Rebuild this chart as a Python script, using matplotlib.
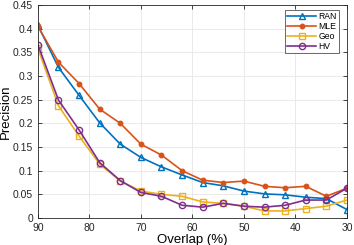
import matplotlib.pyplot as plt

plt.rcParams["font.family"] = ["Liberation Sans", "DejaVu Sans"]

# overlap values (%)
overlap = [90, 86, 82, 78, 74, 70, 66, 62, 58, 54, 50, 46, 42, 38, 34, 30]

ran = [0.407, 0.318, 0.259, 0.201, 0.156, 0.128, 0.108, 0.091, 0.075, 0.068,
       0.057, 0.051, 0.049, 0.044, 0.041, 0.018]
mle = [0.405, 0.329, 0.284, 0.230, 0.200, 0.156, 0.133, 0.100, 0.080, 0.075,
       0.078, 0.067, 0.064, 0.067, 0.046, 0.063]
geo = [0.358, 0.237, 0.173, 0.114, 0.078, 0.057, 0.050, 0.046, 0.034, 0.031,
       0.025, 0.015, 0.015, 0.020, 0.025, 0.038]
hv = [0.366, 0.249, 0.186, 0.117, 0.079, 0.054, 0.046, 0.027, 0.023, 0.031,
      0.025, 0.023, 0.027, 0.038, 0.038, 0.063]

fig = plt.figure(figsize=(3.54, 2.45), dpi=100)
ax = fig.add_axes([0.107, 0.11, 0.873, 0.87])

ax.plot(overlap, ran, color="#0072BD", marker="^", mfc="none", ms=4.5, lw=1.2, mew=1, label="RAN")
ax.plot(overlap, mle, color="#D95319", marker="o", ms=3.2, lw=1.2, label="MLE")
ax.plot(overlap, geo, color="#EDB120", marker="s", mfc="none", ms=3.8, lw=1.2, mew=1, label="Geo")
ax.plot(overlap, hv, color="#7E2F8E", marker="o", mfc="none", ms=4.5, lw=1.2, mew=1, label="HV")

ax.set_xlim(90, 30)
ax.set_ylim(0, 0.45)
ax.set_xticks([90, 80, 70, 60, 50, 40, 30])
ax.set_yticks([0, 0.05, 0.1, 0.15, 0.2, 0.25, 0.3, 0.35, 0.4, 0.45])
ax.set_yticklabels(["0", "0.05", "0.1", "0.15", "0.2", "0.25", "0.3", "0.35", "0.4", "0.45"])
ax.tick_params(labelsize=7.5, direction="in", top=True, right=True, length=3, width=0.6, colors="#262626")
ax.grid(True, color="#e6e6e6", lw=0.6)
ax.set_axisbelow(True)
for s in ax.spines.values():
    s.set_color("#262626")
    s.set_linewidth(0.6)

ax.set_xlabel("Overlap (%)", fontsize=9.5, labelpad=1)
ax.set_ylabel("Precision", fontsize=9.5, labelpad=0.5)

leg = ax.legend(loc="upper right", bbox_to_anchor=(0.974, 0.977), borderaxespad=0,
                fontsize=6.2, fancybox=False, edgecolor="#262626",
                handlelength=3.3, borderpad=0.25, labelspacing=0.1, handletextpad=0.3)
leg.get_frame().set_linewidth(0.6)

fig.savefig("out.png", dpi=100)
